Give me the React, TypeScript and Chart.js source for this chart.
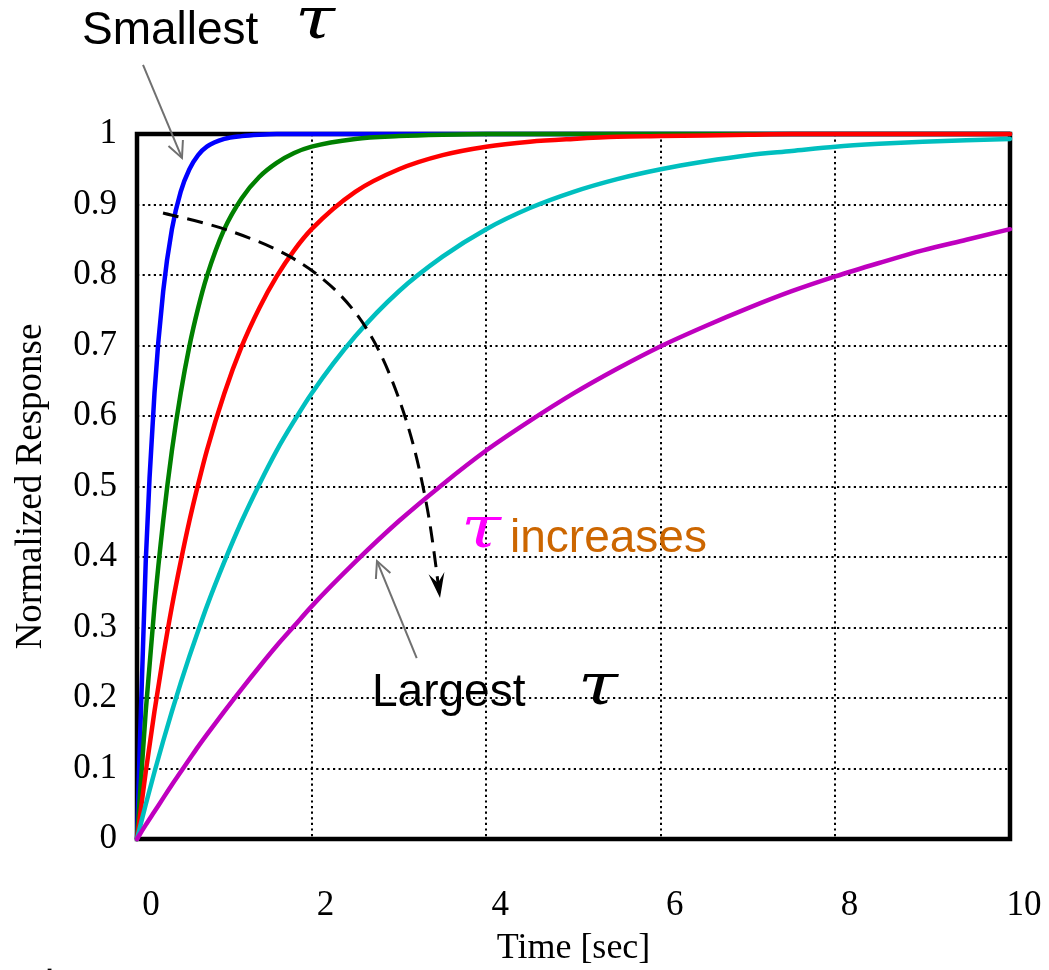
import React, { useEffect, useRef } from "react";
import { Chart, registerables } from "chart.js";

Chart.register(...registerables);

// ---- Data ----
const timeSec = [0, 0.1, 0.2, 0.3, 0.4, 0.5, 0.6, 0.7, 0.8, 1.0, 1.2, 1.4, 1.6, 1.8, 2.0, 2.5, 3.0, 3.5, 4.0, 4.5, 5.0, 5.5, 6.0, 6.5, 7.0, 7.5, 8.0, 8.5, 9.0, 9.5, 10.0];

const blueResponse = [0, 0.393, 0.632, 0.777, 0.865, 0.918, 0.95, 0.97, 0.982, 0.993, 0.997, 0.999, 1, 1, 1, 1, 1, 1, 1, 1, 1, 1, 1, 1, 1, 1, 1, 1, 1, 1, 1];
const greenResponse = [0, 0.181, 0.33, 0.451, 0.551, 0.632, 0.699, 0.753, 0.798, 0.865, 0.909, 0.939, 0.959, 0.973, 0.982, 0.993, 0.997, 0.999, 1, 1, 1, 1, 1, 1, 1, 1, 1, 1, 1, 1, 1];
const redResponse = [0, 0.095, 0.181, 0.259, 0.33, 0.393, 0.451, 0.503, 0.551, 0.632, 0.699, 0.753, 0.798, 0.835, 0.865, 0.918, 0.95, 0.97, 0.982, 0.989, 0.993, 0.996, 0.997, 0.998, 0.999, 1, 1, 1, 1, 1, 1];
const cyanResponse = [0, 0.049, 0.095, 0.139, 0.181, 0.221, 0.259, 0.295, 0.33, 0.393, 0.451, 0.503, 0.551, 0.593, 0.632, 0.713, 0.777, 0.826, 0.865, 0.895, 0.918, 0.936, 0.95, 0.961, 0.97, 0.976, 0.982, 0.986, 0.989, 0.991, 0.993];
const magentaResponse = [0, 0.02, 0.039, 0.058, 0.077, 0.095, 0.113, 0.131, 0.148, 0.181, 0.213, 0.244, 0.274, 0.302, 0.33, 0.393, 0.451, 0.503, 0.551, 0.593, 0.632, 0.667, 0.699, 0.727, 0.753, 0.777, 0.798, 0.817, 0.835, 0.85, 0.865];

const xTickLabels = ["0", "2", "4", "6", "8", "10"];
const yTickLabels = ["0", "0.1", "0.2", "0.3", "0.4", "0.5", "0.6", "0.7", "0.8", "0.9", "1"];

const xAxisTitle = "Time [sec]";
const yAxisTitle = "Normalized Response";

// Annotation anchor points (data coordinates)
const dashedArrowPath = [
  [0.298, 0.888],
  [1.031, 0.864],
  [1.753, 0.826],
  [2.325, 0.772],
  [2.749, 0.698],
  [3.093, 0.59],
  [3.322, 0.471],
  [3.471, 0.342],
];

const seriesList = [
  { data: blueResponse, color: "#0000ff", order: 5 },
  { data: greenResponse, color: "#008000", order: 4 },
  { data: redResponse, color: "#ff0000", order: 3 },
  { data: cyanResponse, color: "#00bfbf", order: 2 },
  { data: magentaResponse, color: "#bf00bf", order: 1 },
];

function drawOpenArrow(ctx: CanvasRenderingContext2D, x1: number, y1: number, x2: number, y2: number) {
  ctx.beginPath();
  ctx.moveTo(x1, y1);
  ctx.lineTo(x2, y2);
  ctx.stroke();
  const ang = Math.atan2(y2 - y1, x2 - x1);
  const len = 18;
  const spread = 0.45;
  ctx.beginPath();
  ctx.moveTo(x2 - len * Math.cos(ang - spread), y2 - len * Math.sin(ang - spread));
  ctx.lineTo(x2, y2);
  ctx.lineTo(x2 - len * Math.cos(ang + spread), y2 - len * Math.sin(ang + spread));
  ctx.stroke();
}

function drawTau(ctx: CanvasRenderingContext2D, x: number, y: number, color: string, targetW: number) {
  ctx.save();
  ctx.font = 'italic 58px "DejaVu Serif"';
  ctx.fillStyle = color;
  ctx.textBaseline = "alphabetic";
  const w = ctx.measureText("τ").width || targetW;
  ctx.translate(x, y);
  ctx.scale(targetW / w, 1);
  ctx.fillText("τ", 0, 0);
  ctx.restore();
}

const annotationPlugin = {
  id: "annotations",
  beforeDatasetsDraw(chart: any) {
    const { ctx, chartArea: a } = chart;
    ctx.save();
    ctx.strokeStyle = "#000";
    ctx.lineWidth = 4.5;
    ctx.strokeRect(a.left, a.top, a.right - a.left, a.bottom - a.top);
    ctx.restore();
  },
  afterDatasetsDraw(chart: any) {
    const { ctx } = chart;
    const X = (v: number) => chart.scales.x.getPixelForValue(v);
    const Y = (v: number) => chart.scales.y.getPixelForValue(v);
    ctx.save();

    // Texts
    ctx.font = '46px "Liberation Sans"';
    ctx.textBaseline = "alphabetic";
    ctx.textAlign = "left";
    ctx.fillStyle = "#000";
    ctx.fillText("Smallest", X(-0.63), Y(1.128));
    ctx.fillText("Largest", X(2.692), Y(0.1887));
    drawTau(ctx, X(1.81), Y(1.136), "#000", 40);
    drawTau(ctx, X(5.052), Y(0.1915), "#000", 40);
    drawTau(ctx, X(3.711), Y(0.414), "#ff00ff", 40);
    ctx.font = '46px "Liberation Sans"';
    ctx.fillStyle = "#cc6600";
    ctx.fillText("increases", X(4.273), Y(0.407));

    // stray period at bottom-left
    ctx.fillStyle = "#000";
    ctx.font = '40px "Liberation Sans"';
    ctx.fillText(".", X(-1.065), Y(-0.19));

    // Gray pointer arrows
    ctx.strokeStyle = "#707070";
    ctx.lineWidth = 2;
    ctx.setLineDash([]);
    drawOpenArrow(ctx, X(0.069), Y(1.098), X(0.515), Y(0.966));
    drawOpenArrow(ctx, X(3.204), Y(0.2567), X(2.749), Y(0.3943));

    // Dashed curved arrow
    const pts = dashedArrowPath.map(([x, y]) => [X(x), Y(y)]);
    ctx.strokeStyle = "#000";
    ctx.lineWidth = 3;
    ctx.setLineDash([16, 9]);
    ctx.beginPath();
    ctx.moveTo(pts[0][0], pts[0][1]);
    for (let i = 0; i < pts.length - 1; i++) {
      const p0 = pts[i - 1] || pts[i];
      const p1 = pts[i];
      const p2 = pts[i + 1];
      const p3 = pts[i + 2] || p2;
      const c1x = p1[0] + (p2[0] - p0[0]) / 6;
      const c1y = p1[1] + (p2[1] - p0[1]) / 6;
      const c2x = p2[0] - (p3[0] - p1[0]) / 6;
      const c2y = p2[1] - (p3[1] - p1[1]) / 6;
      ctx.bezierCurveTo(c1x, c1y, c2x, c2y, p2[0], p2[1]);
    }
    ctx.stroke();
    ctx.setLineDash([]);
    // arrowhead (stealth)
    const tip = pts[pts.length - 1];
    const prev = pts[pts.length - 2];
    const ang = Math.atan2(tip[1] - prev[1], tip[0] - prev[0]);
    const L = 25;
    const W = 8;
    const bx = tip[0] - L * Math.cos(ang);
    const by = tip[1] - L * Math.sin(ang);
    const nx = -Math.sin(ang);
    const ny = Math.cos(ang);
    const notchX = tip[0] - L * 0.6 * Math.cos(ang);
    const notchY = tip[1] - L * 0.6 * Math.sin(ang);
    ctx.fillStyle = "#000";
    ctx.beginPath();
    ctx.moveTo(tip[0], tip[1]);
    ctx.lineTo(bx + nx * W, by + ny * W);
    ctx.lineTo(notchX, notchY);
    ctx.lineTo(bx - nx * W, by - ny * W);
    ctx.closePath();
    ctx.fill();

    ctx.restore();
  },
};

export default function App() {
  const canvasRef = useRef<HTMLCanvasElement | null>(null);

  useEffect(() => {
    if (!canvasRef.current) return;
    const datasets = seriesList.map((s) => ({
      data: timeSec.map((t, i) => ({ x: t, y: s.data[i] })),
      borderColor: s.color,
      backgroundColor: s.color,
      borderWidth: 4.5,
      pointRadius: 0,
      fill: false,
      cubicInterpolationMode: "monotone" as const,
      borderCapStyle: "round" as const,
      borderJoinStyle: "round" as const,
      clip: false as any,
      order: s.order,
    }));

    const chart = new Chart(canvasRef.current, {
      type: "line",
      data: { datasets },
      options: {
        animation: false,
        responsive: false,
        events: [],
        layout: { padding: { top: 134, right: 39, left: 0, bottom: 0 } },
        plugins: { legend: { display: false }, tooltip: { enabled: false } },
        scales: {
          x: {
            type: "linear",
            min: 0,
            max: 10,
            afterFit: (scale: any) => {
              scale.height = 131;
              scale.paddingLeft = 0;
              scale.paddingRight = 0;
            },
            afterBuildTicks: (scale: any) => {
              scale.ticks = xTickLabels.map((l) => ({ value: Number(l) }));
            },
            ticks: {
              color: "#000",
              font: { family: '"Liberation Serif"', size: 35 },
              padding: 46,
              labelOffset: 14,
              maxRotation: 0,
              autoSkip: false,
              callback: (_v: any, i: number) => xTickLabels[i],
            },
            grid: { color: "#000", lineWidth: 2, drawTicks: false },
            border: { display: false, dash: [2.2, 3.4] },
            title: {
              display: true,
              text: xAxisTitle,
              color: "#000",
              font: { family: '"Liberation Serif"', size: 36 },
              padding: { top: 0, bottom: 0 },
            },
          },
          y: {
            type: "linear",
            min: 0,
            max: 1,
            afterFit: (scale: any) => {
              scale.width = 137;
              scale.paddingTop = 0;
              scale.paddingBottom = 0;
            },
            afterBuildTicks: (scale: any) => {
              scale.ticks = yTickLabels.map((l) => ({ value: Number(l) }));
            },
            ticks: {
              color: "#000",
              font: { family: '"Liberation Serif"', size: 35 },
              padding: 20,
              autoSkip: false,
              callback: (_v: any, i: number) => yTickLabels[i],
            },
            grid: { color: "#000", lineWidth: 2, drawTicks: false },
            border: { display: false, dash: [2.2, 3.4] },
            title: {
              display: true,
              text: yAxisTitle,
              color: "#000",
              font: { family: '"Liberation Serif"', size: 37 },
              padding: { top: 9, bottom: 0 },
            },
          },
        },
      },
      plugins: [annotationPlugin],
    });
    return () => chart.destroy();
  }, []);

  return (
    <div style={{ position: "fixed", left: 0, top: 0, width: 1049, height: 970, background: "#fff" }}>
      <canvas ref={canvasRef} width={1049} height={970} style={{ display: "block", width: 1049, height: 970 }} />
    </div>
  );
}
